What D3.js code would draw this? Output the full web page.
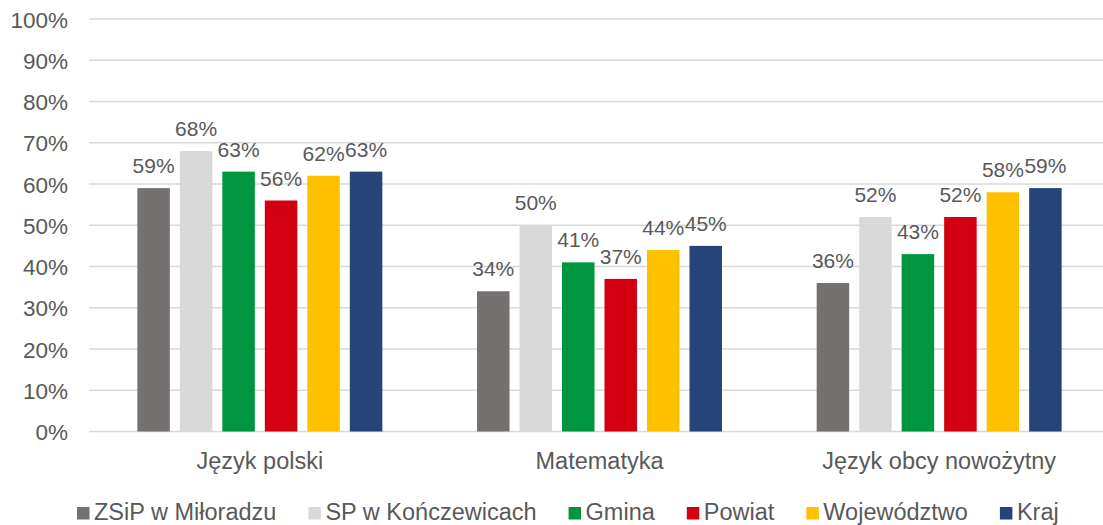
<!DOCTYPE html>
<html>
<head>
<meta charset="utf-8">
<script src="https://cdn.jsdelivr.net/npm/d3@7"></script>
<style>
  body { margin: 0; background: #fff; }
  svg { display: block; font-family: "Liberation Sans", Arial, sans-serif; }
</style>
</head>
<body>
<svg id="chart" width="1103" height="525"></svg>
<script>
// dane
const categories = ["Język polski", "Matematyka", "Język obcy nowożytny"];
const seriesNames = ["ZSiP w Miłoradzu", "SP w Kończewicach", "Gmina", "Powiat", "Województwo", "Kraj"];
const seriesColors = ["#767171", "#d9d9d9", "#00963f", "#d20010", "#ffc000", "#264478"];
const zsip = [0.59, 0.34, 0.36];
const sp = [0.68, 0.50, 0.52];
const gmina = [0.63, 0.41, 0.43];
const powiat = [0.56, 0.37, 0.52];
const wojewodztwo = [0.62, 0.44, 0.58];
const kraj = [0.63, 0.45, 0.59];
const yTicks = [0, 0.1, 0.2, 0.3, 0.4, 0.5, 0.6, 0.7, 0.8, 0.9, 1];

const values = [zsip, sp, gmina, powiat, wojewodztwo, kraj];
const textColor = "#595959";
const fontFam = "Liberation Sans, Arial, sans-serif";

const svg = d3.select("#chart");

const x0 = d3.scaleBand()
    .domain(categories)
    .range([90, 1109])
    .padding(0);

const x1 = d3.scaleBand()
    .domain(seriesNames)
    .range([0, x0.bandwidth()])
    .paddingInner(0.235)
    .paddingOuter(1.114);

const y = d3.scaleLinear()
    .domain([0, 1])
    .range([431.5, 19]);

// siatka
svg.append("g")
    .selectAll("line")
    .data(yTicks)
    .enter()
    .append("line")
    .attr("x1", 89)
    .attr("x2", 1103)
    .attr("y1", d => y(d))
    .attr("y2", d => y(d))
    .attr("stroke", "#d9d9d9")
    .attr("stroke-width", 1.3);

// oś Y
const yAxis = d3.axisLeft(y)
    .tickValues(yTicks)
    .tickFormat(d3.format(".0%"))
    .tickSize(0)
    .tickPadding(0);

svg.append("g")
    .attr("transform", "translate(68,0)")
    .call(yAxis)
    .call(g => g.select(".domain").remove())
    .selectAll("text")
    .attr("fill", textColor)
    .style("font-size", "22.5px")
    .style("font-family", fontFam)
    .attr("dy", "0.36em");

// oś X
const xAxis = d3.axisBottom(x0).tickSize(0).tickPadding(0);
svg.append("g")
    .attr("transform", "translate(0,431.5)")
    .call(xAxis)
    .call(g => g.select(".domain").remove())
    .selectAll("text")
    .attr("fill", textColor)
    .attr("dy", 0)
    .attr("y", 37)
    .style("font-size", "23.5px")
    .style("font-family", fontFam);

// słupki
const groups = svg.append("g")
    .selectAll("g")
    .data(seriesNames)
    .enter()
    .append("g")
    .attr("fill", (d, i) => seriesColors[i]);

groups.selectAll("rect")
    .data((s, si) => categories.map((c, ci) => ({ s: s, c: c, v: values[si][ci] })))
    .enter()
    .append("rect")
    .attr("x", d => x0(d.c) + x1(d.s))
    .attr("width", x1.bandwidth())
    .attr("y", d => y(d.v))
    .attr("height", d => y(0) - y(d.v));

// etykiety danych
groups.selectAll("text")
    .data((s, si) => categories.map((c, ci) => ({ s: s, c: c, v: values[si][ci] })))
    .enter()
    .append("text")
    .attr("x", d => x0(d.c) + x1(d.s) + x1.bandwidth() / 2)
    .attr("y", d => y(d.v) - 15)
    .attr("text-anchor", "middle")
    .attr("fill", textColor)
    .style("font-size", "21px")
    .text(d => d3.format(".0%")(d.v));

// legenda
const legend = svg.append("g").attr("transform", "translate(77,0)");
let lx = 0;
seriesNames.forEach((name, i) => {
    const item = legend.append("g").attr("transform", "translate(" + lx + ",0)");
    item.append("rect")
        .attr("x", 0)
        .attr("y", 507)
        .attr("width", 12.5)
        .attr("height", 12.5)
        .attr("fill", seriesColors[i]);
    const t = item.append("text")
        .attr("x", 17)
        .attr("y", 520)
        .attr("fill", textColor)
        .style("font-size", "23.5px")
        .text(name);
    lx += 17 + t.node().getComputedTextLength() + 32;
});
</script>
</body>
</html>
